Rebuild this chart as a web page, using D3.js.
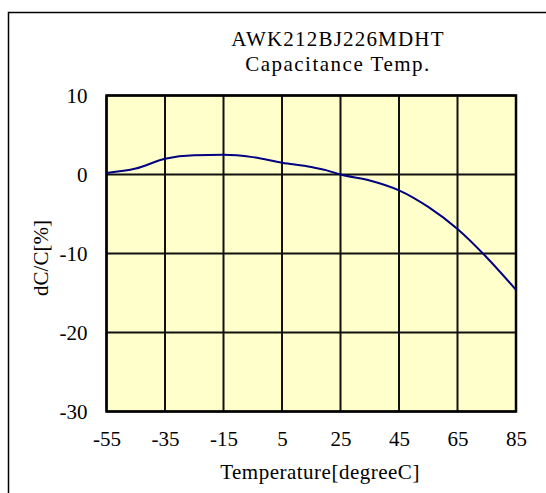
<!DOCTYPE html>
<html>
<head>
<meta charset="utf-8">
<script src="https://cdn.jsdelivr.net/npm/d3@7"></script>
<style>
  body { margin: 0; background: #fff; }
  svg text { font-family: "Liberation Serif", "Times New Roman", serif; fill: #000; }
</style>
</head>
<body>
<div id="chart"></div>
<script>
// data
var temps = [-55, -45, -35, -25, -15, -5, 5, 15, 20, 25, 35, 45, 55, 65, 75, 85];
var dcc   = [0.2, 0.75, 2.0, 2.45, 2.5, 2.2, 1.5, 0.95, 0.55, 0, -0.75, -2.0, -4.1, -6.9, -10.5, -14.6];
var xTicks = [-55, -35, -15, 5, 25, 45, 65, 85];
var yTicks = [10, 0, -10, -20, -30];
var titleLines = ["AWK212BJ226MDHT", "Capacitance Temp."];

var width = 546, height = 493;
var plotLeft = 106.5, plotRight = 516, plotTop = 95.5, plotBottom = 411.5;
var fs = 21;

var svg = d3.select("#chart").append("svg")
    .attr("width", width)
    .attr("height", height);

// outer frame
svg.append("rect")
    .attr("x", 8.5).attr("y", 12.5)
    .attr("width", 700).attr("height", 700)
    .attr("fill", "none")
    .attr("stroke", "#000")
    .attr("stroke-width", 1.5);

var x = d3.scaleLinear().domain([-55, 85]).range([plotLeft, plotRight]);
var y = d3.scaleLinear().domain([-30, 10]).range([plotBottom, plotTop]);

// plot area
svg.append("rect")
    .attr("x", plotLeft).attr("y", plotTop)
    .attr("width", plotRight - plotLeft).attr("height", plotBottom - plotTop)
    .attr("fill", "#FFFFCC");

// grid
svg.append("g")
    .selectAll("line")
    .data(xTicks)
    .enter()
        .append("line")
        .attr("x1", function(d) { return x(d); })
        .attr("x2", function(d) { return x(d); })
        .attr("y1", plotTop).attr("y2", plotBottom)
        .attr("stroke", "#111").attr("stroke-width", 2);

svg.append("g")
    .selectAll("line")
    .data(yTicks)
    .enter()
        .append("line")
        .attr("y1", function(d) { return y(d); })
        .attr("y2", function(d) { return y(d); })
        .attr("x1", plotLeft).attr("x2", plotRight)
        .attr("stroke", "#111").attr("stroke-width", 2);

// border
svg.append("rect")
    .attr("x", plotLeft).attr("y", plotTop)
    .attr("width", plotRight - plotLeft).attr("height", plotBottom - plotTop)
    .attr("fill", "none")
    .attr("stroke", "#000")
    .attr("stroke-width", 2.5);

// axes (labels only), plain hyphen for minus like the original
var fmt = function(d) { return String(d); };

var yAxis = svg.append("g")
    .attr("transform", "translate(" + plotLeft + ",0)")
    .call(d3.axisLeft(y).tickValues(yTicks).tickFormat(fmt).tickSize(0).tickPadding(19));
yAxis.select(".domain").remove();
yAxis.selectAll("text")
    .attr("font-size", fs)
    .style("font-family", "Liberation Serif");

var xAxis = svg.append("g")
    .attr("transform", "translate(0," + plotBottom + ")")
    .call(d3.axisBottom(x).tickValues(xTicks).tickFormat(fmt).tickSize(0).tickPadding(20));
xAxis.select(".domain").remove();
xAxis.selectAll("text")
    .attr("font-size", fs)
    .style("font-family", "Liberation Serif");

// curve
var line = d3.line()
    .x(function(d, i) { return x(temps[i]); })
    .y(function(d) { return y(d); })
    .curve(d3.curveMonotoneX);

svg.append("path")
    .datum(dcc)
    .attr("d", line)
    .attr("fill", "none")
    .attr("stroke", "#000080")
    .attr("stroke-width", 2);

// titles
svg.selectAll(".title")
    .data(titleLines)
    .enter()
        .append("text")
        .attr("class", "title")
        .attr("x", 338)
        .attr("y", function(d, i) { return 46 + i * 25; })
        .attr("text-anchor", "middle")
        .attr("font-size", fs)
        .attr("letter-spacing", function(d, i) { return i == 0 ? 1.2 : 1.5; })
        .text(function(d) { return d; });

svg.append("text")
    .attr("x", 320).attr("y", 479)
    .attr("text-anchor", "middle")
    .attr("font-size", fs)
    .attr("letter-spacing", 0.5)
    .text("Temperature[degreeC]");

svg.append("text")
    .attr("transform", "translate(48,258) rotate(-90)")
    .attr("text-anchor", "middle")
    .attr("font-size", fs)
    .text("dC/C[%]");
</script>
</body>
</html>
